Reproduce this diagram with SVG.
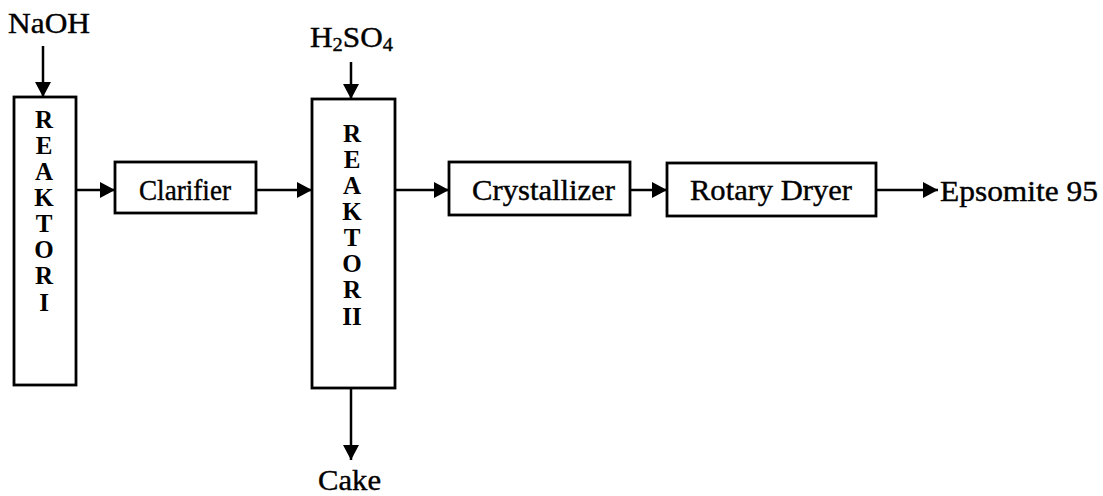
<svg xmlns="http://www.w3.org/2000/svg" width="1103" height="496" viewBox="0 0 1103 496">
<style>
.box{fill:#fff;stroke:#000;stroke-width:2.8}
.t{font-family:"Liberation Serif","Times New Roman",serif;fill:#000;font-size:29px;stroke:#000;stroke-width:0.4}
.v{font-family:"Liberation Serif","Times New Roman",serif;font-weight:bold;font-size:25px;text-anchor:middle;fill:#000}
.c{stroke:#000;stroke-width:2.5;fill:none;marker-end:url(#ah)}
</style>
<defs>
<marker id="ah" viewBox="0 0 15 16" refX="15" refY="8" markerWidth="15" markerHeight="16" markerUnits="userSpaceOnUse" orient="auto">
<path d="M0,0 L15,8 L0,16 z" fill="#000"/>
</marker>
</defs>
<rect width="1103" height="496" fill="#fff"/>
<g id="connectors">
<path class="c" d="M43,46 V97"/>
<path class="c" d="M76,190 H115"/>
<path class="c" d="M256,190 H312"/>
<path class="c" d="M351,62 V99"/>
<path class="c" d="M395,190 H449"/>
<path class="c" d="M630,190 H667"/>
<path class="c" d="M876,190 H938"/>
<path class="c" d="M351,388 V460"/>
</g>
<g id="naoh"><text class="t" x="8" y="33" font-size="30" textLength="82" lengthAdjust="spacingAndGlyphs">NaOH</text></g>
<g id="h2so4"><text class="t" x="310" y="47" font-size="30" textLength="83" lengthAdjust="spacingAndGlyphs">H<tspan font-size="19" dy="4">2</tspan><tspan dy="-4">SO</tspan><tspan font-size="19" dy="4">4</tspan></text></g>
<g id="reaktor1">
<rect class="box" x="14" y="97" width="62" height="288"/>
<text class="v" x="44" y="128">R</text>
<text class="v" x="44" y="154">E</text>
<text class="v" x="44" y="180">A</text>
<text class="v" x="44" y="206">K</text>
<text class="v" x="44" y="232">T</text>
<text class="v" x="44" y="258">O</text>
<text class="v" x="44" y="284">R</text>
<text class="v" x="44" y="311">I</text>
</g>
<g id="clarifier">
<rect class="box" x="115" y="162" width="141" height="51"/>
<text class="t" x="139" y="200" textLength="92" lengthAdjust="spacingAndGlyphs">Clarifier</text>
</g>
<g id="reaktor2">
<rect class="box" x="312" y="99" width="83" height="289"/>
<text class="v" x="352" y="142">R</text>
<text class="v" x="352" y="168">E</text>
<text class="v" x="352" y="194">A</text>
<text class="v" x="352" y="220">K</text>
<text class="v" x="352" y="246">T</text>
<text class="v" x="352" y="272">O</text>
<text class="v" x="352" y="298">R</text>
<text class="v" x="352" y="325">II</text>
</g>
<g id="crystallizer">
<rect class="box" x="449" y="162" width="181" height="53"/>
<text class="t" x="472" y="200" textLength="143" lengthAdjust="spacingAndGlyphs">Crystallizer</text>
</g>
<g id="dryer">
<rect class="box" x="667" y="163" width="209" height="53"/>
<text class="t" x="690" y="200" textLength="162" lengthAdjust="spacingAndGlyphs">Rotary Dryer</text>
</g>
<g id="epsomite"><text class="t" x="940" y="201" textLength="158" lengthAdjust="spacingAndGlyphs">Epsomite 95</text></g>
<g id="cake"><text class="t" x="318" y="490" font-size="30" textLength="63" lengthAdjust="spacingAndGlyphs">Cake</text></g>
</svg>
